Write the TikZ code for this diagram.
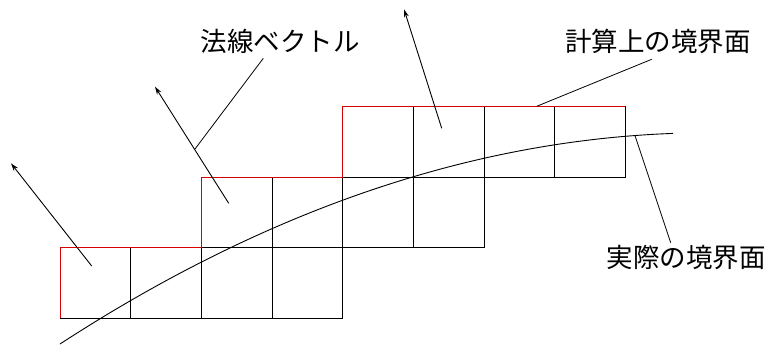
\documentclass[tikz,border=0pt]{standalone}
\usepackage{fontspec}
\newfontfamily\cjk{Noto Sans CJK JP}
\usetikzlibrary{arrows.meta}
\begin{document}
\begin{tikzpicture}[x=1pt,y=-1pt,
  line width=0.9pt,
  cell/.style={draw=black},
  redbound/.style={draw=red!85!black, line width=1pt},
  normalvec/.style={draw=black, -{Stealth[length=8pt,width=5pt]}},
  leader/.style={draw=black, line width=0.8pt},
  curvestyle/.style={draw=black, line width=0.9pt},
  lbl/.style={font=\cjk\fontsize{26.5}{28}\selectfont, inner sep=0pt, anchor=center}]
\useasboundingbox (0,0) rectangle (770,345);
\def\s{70.67}
% black cells
\foreach \i in {0,...,3}{
  \draw[cell] ({60+\i*\s},247.7) rectangle ({60+(\i+1)*\s},318.3);
  \draw[cell] ({201.3+\i*\s},177) rectangle ({201.3+(\i+1)*\s},247.7);
  \draw[cell] ({342.7+\i*\s},106.3) rectangle ({342.7+(\i+1)*\s},177);
}
% computed boundary
\draw[redbound] (60,318.3) -- (60,247.7) -- (201.3,247.7) -- (201.3,177) -- (342.7,177) -- (342.7,106.3) -- (625.3,106.3);
% actual boundary
\coordinate (cs) at (60,344);
\coordinate (ce) at (673,133.4);
\draw[curvestyle] (cs) .. controls (264.3,211.2) and (468.7,141.0) .. (ce);
% normal vectors
\coordinate (n1t) at (91.7,266);
\coordinate (n1h) at (11,163.3);
\coordinate (n2t) at (228.7,203.3);
\coordinate (n2h) at (155,86.7);
\coordinate (n3t) at (441.7,128.3);
\coordinate (n3h) at (404,9.3);
\draw[normalvec] (n1t) -- (n1h);
\draw[normalvec] (n2t) -- (n2h);
\draw[normalvec] (n3t) -- (n3h);
% labels
\node[lbl] (ln) at (280,41) {法線ベクトル};
\node[lbl] (lc) at (658,41) {計算上の境界面};
\node[lbl] (la) at (686,258) {実際の境界面};
% leaders
\coordinate (ln1) at (263.3,58.3);
\coordinate (ln2) at (195,149);
\coordinate (lc1) at (651.7,59.3);
\coordinate (lc2) at (536.7,106.3);
\coordinate (la1) at (670.7,242.7);
\coordinate (la2) at (635,135.6);
\draw[leader] (ln1) -- (ln2);
\draw[leader] (lc1) -- (lc2);
\draw[leader] (la1) -- (la2);
\end{tikzpicture}
\end{document}
